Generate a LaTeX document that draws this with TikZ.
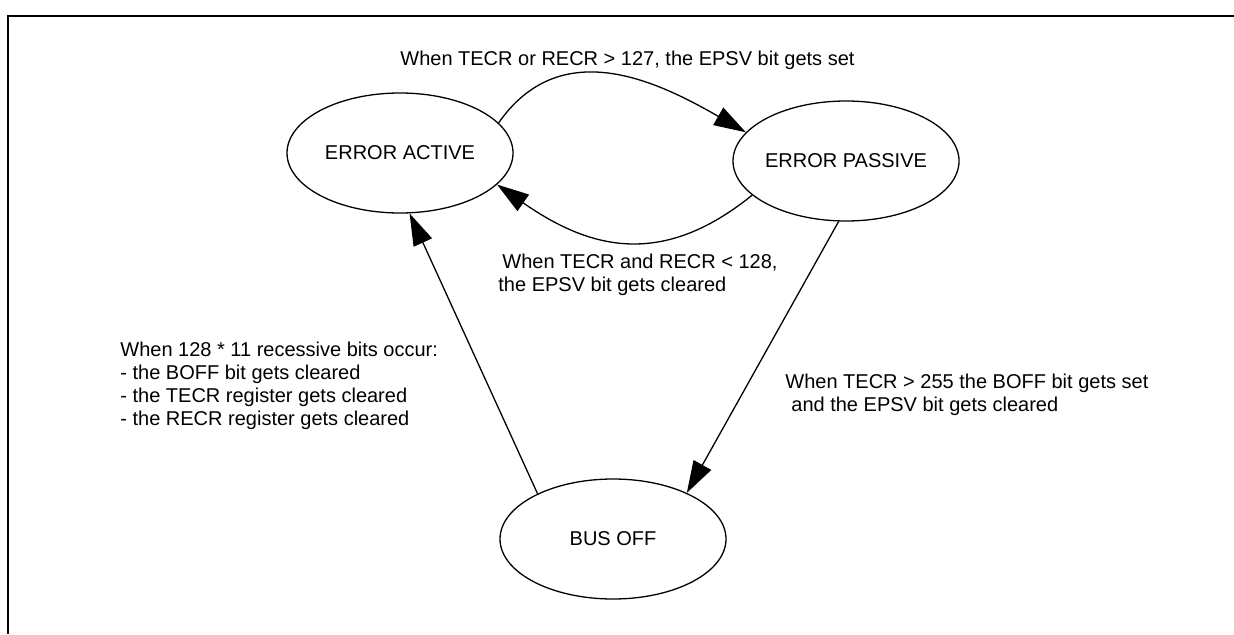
\documentclass[tikz,border=0pt]{standalone}
\usepackage{fontspec}
\setmainfont{Liberation Sans}
\usetikzlibrary{arrows.meta,shapes.geometric}

\begin{document}
\begin{tikzpicture}[
  x=0.5pt, y=0.5pt,
  font=\fontsize{10pt}{11.5pt}\selectfont,
  >={Triangle[length=16pt,width=10pt]},
  st/.style={draw, ellipse, line width=0.65pt, inner xsep=-2pt, inner ysep=0pt,
             minimum width=113pt, minimum height=60pt},
  tr/.style={->, line width=0.65pt},
  lab/.style={align=left, inner sep=0pt, anchor=north west},
  frm/.style={line width=0.9pt}
]
\useasboundingbox (0,0) rectangle (1234,634);

% ---------- frame ----------
\draw[frm] (8,0) -- (8,618) -- (1234,618);

% ---------- states ----------
\node[st] (active)  at (400,481) {ERROR ACTIVE};
\node[st] (passive) at (846,473) {ERROR PASSIVE};
\node[st] (busoff)  at (613,95)  {BUS OFF};

% ---------- transitions ----------
\draw[tr] (active.17) to[out=55,in=150,looseness=1.1] (passive.164);
\draw[tr] (passive.200) to[out=219,in=-35,looseness=1.15] (active.-18);
\draw[tr] (passive.-97) -- (busoff.32);
\draw[tr] (busoff.149) -- (active.-81);

% ---------- labels ----------
\node[lab, anchor=base west] (lset) at (400,569)
  {When TECR or RECR > 127, the EPSV bit gets set};
\node[lab] (lclr) at (498,380)
  {\hspace{2pt}When TECR and RECR < 128,\\the EPSV bit gets cleared};
\node[lab] (lboff) at (785,260)
  {When TECR > 255 the BOFF bit gets set\\\hspace{3pt}and the EPSV bit gets cleared};
\node[lab] (lrec) at (120,292)
  {When 128 * 11 recessive bits occur:\\- the BOFF bit gets cleared\\- the TECR register gets cleared\\- the RECR register gets cleared};

\end{tikzpicture}
\end{document}
